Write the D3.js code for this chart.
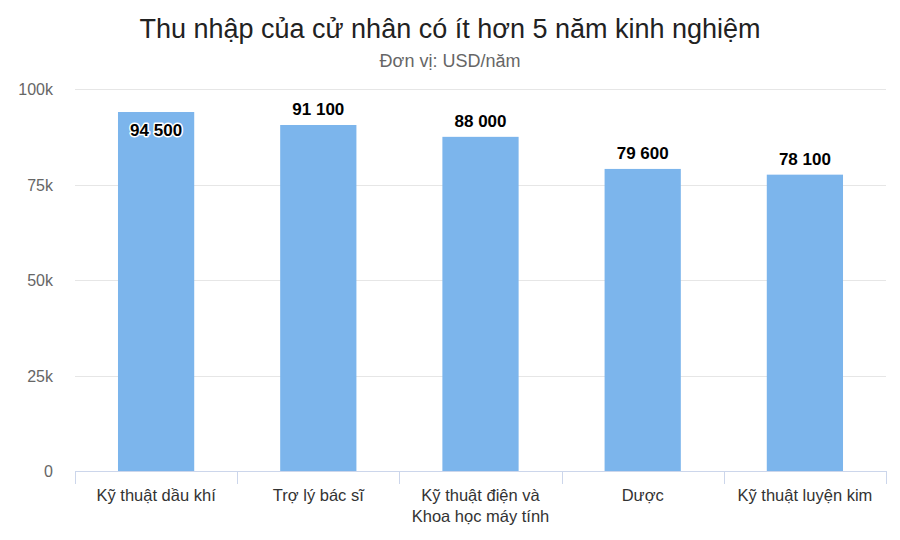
<!DOCTYPE html>
<html><head><meta charset="utf-8">
<script src="https://cdn.jsdelivr.net/npm/d3@7"></script>
<style>body{margin:0;background:#fff;} text{font-family:"Liberation Sans",Arial,sans-serif;}</style>
</head><body><svg id="c" width="900" height="540"></svg>
<script>
const categories = [["Kỹ thuật dầu khí"], ["Trợ lý bác sĩ"], ["Kỹ thuật điện và", "Khoa học máy tính"], ["Dược"], ["Kỹ thuật luyện kim"]];
const values = [94500, 91100, 88000, 79600, 78100];
const valueLabels = ["94 500", "91 100", "88 000", "79 600", "78 100"];
const yTicks = [0, 25000, 50000, 75000, 100000];
const yTickLabels = ["0", "25k", "50k", "75k", "100k"];

const svg = d3.select("#c");
const m = {l: 75, r: 886, t: 89, b: 471};
const x = d3.scaleBand().domain(d3.range(categories.length)).range([m.l, m.r]).paddingInner(0.53).paddingOuter(0.265);
const y = d3.scaleLinear().domain([0, 100000]).range([m.b, m.t]);

svg.append("text").attr("x", 450).attr("y", 38).attr("text-anchor", "middle")
  .attr("font-size", 27).attr("fill", "#222").text("Thu nhập của cử nhân có ít hơn 5 năm kinh nghiệm");
svg.append("text").attr("x", 450).attr("y", 67).attr("text-anchor", "middle")
  .attr("font-size", 18).attr("fill", "#666").text("Đơn vị: USD/năm");

// grid
svg.append("g").selectAll("line").data(yTicks.filter(d => d > 0)).join("line")
  .attr("x1", m.l).attr("x2", m.r).attr("y1", d => Math.round(y(d)) + 0.5).attr("y2", d => Math.round(y(d)) + 0.5)
  .attr("stroke", "#e6e6e6");
// y labels
svg.append("g").selectAll("text").data(yTicks).join("text")
  .attr("x", 53).attr("y", d => y(d) + 6).attr("text-anchor", "end")
  .attr("font-size", 16).attr("fill", "#666").text((d, i) => yTickLabels[i]);

// bars
svg.append("g").selectAll("rect").data(values).join("rect")
  .attr("x", (d, i) => x(i)).attr("width", x.bandwidth())
  .attr("y", d => y(d) + 2).attr("height", d => y(0) - y(d) - 2).attr("fill", "#7cb5ec");

// x axis
svg.append("line").attr("x1", m.l).attr("x2", m.r).attr("y1", m.b + 0.5).attr("y2", m.b + 0.5).attr("stroke", "#ccd6eb");
const step = x.step();
svg.append("g").selectAll("line").data(d3.range(categories.length + 1)).join("line")
  .attr("x1", i => Math.round(m.l + i * step) + 0.5).attr("x2", i => Math.round(m.l + i * step) + 0.5)
  .attr("y1", m.b).attr("y2", m.b + 13).attr("stroke", "#ccd6eb");
const xl = svg.append("g").selectAll("text").data(categories).join("text")
  .attr("text-anchor", "middle").attr("font-size", 16.5).attr("fill", "#333");
xl.each(function(lines, i) {
  const t = d3.select(this);
  lines.forEach((s, j) => t.append("tspan").attr("x", x(i) + x.bandwidth() / 2).attr("y", 501 + j * 21).text(s));
});

// value labels
svg.append("g").selectAll("text").data(values).join("text")
  .attr("x", (d, i) => x(i) + x.bandwidth() / 2)
  .attr("y", (d) => y(d) > 120 ? y(d) - 8 : y(d) + 26)
  .attr("text-anchor", "middle").attr("font-size", 17).attr("font-weight", "bold")
  .attr("fill", "#000").attr("stroke", "#fff").attr("stroke-width", 3).attr("stroke-linejoin", "round")
  .attr("paint-order", "stroke").text((d, i) => valueLabels[i]);
</script></body></html>
